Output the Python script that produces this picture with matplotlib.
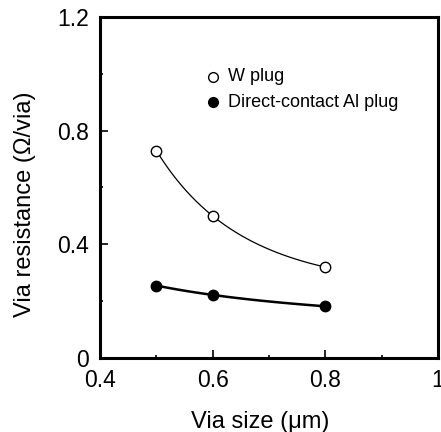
import numpy as np
import matplotlib
matplotlib.use("Agg")
from matplotlib import pyplot as plt
from matplotlib.ticker import MultipleLocator

plt.rcParams['font.family'] = ['Liberation Sans', 'DejaVu Sans']

via_size = [0.5, 0.6, 0.8]
w_plug = [0.73, 0.50, 0.32]
al_plug = [0.255, 0.222, 0.182]


def smooth(x, y, n=100):
    # guide curve: quadratic in 1/x through the three points
    u = 1.0 / np.asarray(x, float)
    c = np.polyfit(u, y, 2)
    xs = np.linspace(min(x), max(x), n)
    return xs, np.polyval(c, 1.0 / xs)


fig = plt.figure(figsize=(4.41, 4.32), dpi=100)
ax = fig.add_axes([100 / 441, 1 - 358 / 432, 338 / 441, 341 / 432])

xs, ys = smooth(via_size, w_plug)
ax.plot(xs, ys, color='black', lw=0.9)
xs, ys = smooth(via_size, al_plug)
ax.plot(xs, ys, color='black', lw=1.8)

ax.plot(via_size, w_plug, 'o', ms=7.5, mfc='white', mec='black', mew=1.0, zorder=3)
ax.plot(via_size, al_plug, 'o', ms=7.5, mfc='black', mec='black', zorder=3)

ax.set_xlim(0.4, 1.0)
ax.set_ylim(0, 1.2)
ax.set_xticks([0.4, 0.6, 0.8, 1.0])
ax.set_xticklabels(['0.4', '0.6', '0.8', '1'])
ax.set_yticks([0, 0.4, 0.8, 1.2])
ax.set_yticklabels(['0', '0.4', '0.8', '1.2'])
ax.xaxis.set_minor_locator(MultipleLocator(0.1))
ax.yaxis.set_minor_locator(MultipleLocator(0.2))
ax.tick_params(which='both', direction='in', labelsize=16.5, width=1.2)
ax.tick_params(which='major', length=5.5, pad=8)
ax.tick_params(which='minor', length=2.5)
for s in ax.spines.values():
    s.set_linewidth(2.2)

ax.set_xlabel('Via size (\u03bcm)', fontsize=17)
ax.set_ylabel('Via resistance (\u03a9/via)', fontsize=17)
ax.xaxis.set_label_coords(0.475, -0.155)
ax.yaxis.set_label_coords(-0.19, 0.45)

# inset key, placed in data coordinates like the original
ax.plot(0.60, 0.99, 'o', ms=7, mfc='white', mec='black', mew=1.0)
ax.text(0.627, 0.99, 'W plug', fontsize=13, va='center')
ax.plot(0.60, 0.90, 'o', ms=7, mfc='black', mec='black')
ax.text(0.627, 0.90, 'Direct-contact Al plug', fontsize=13, va='center')

fig.savefig('out.png', dpi=100)
